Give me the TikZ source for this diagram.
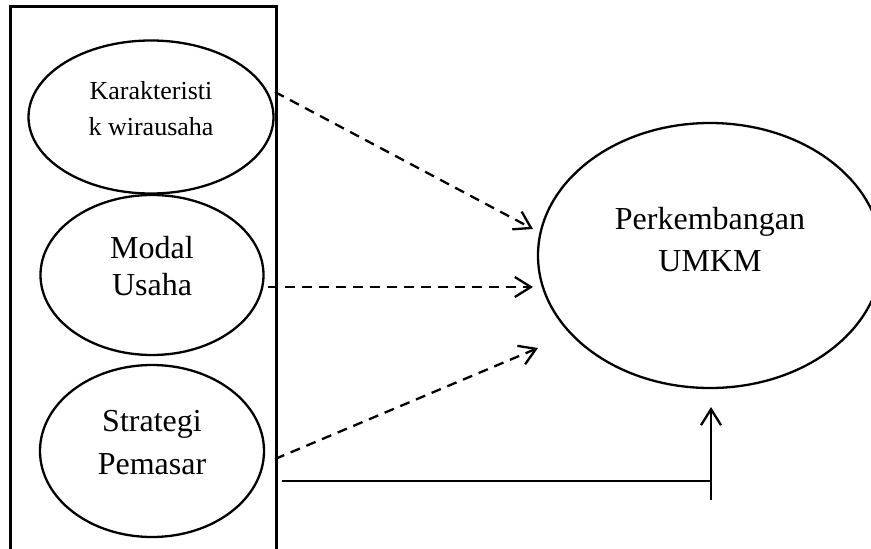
\documentclass[tikz,border=0pt]{standalone}
\usepackage{fontspec}
\setmainfont{Liberation Serif}
\usetikzlibrary{shapes, arrows.meta}
\usetikzlibrary{positioning}

\tikzset{
  var/.style={draw, ellipse, line width=2.3pt, inner sep=0pt},
  tulisan/.style={align=center, font=\fontsize{32}{37}\selectfont},
  garis/.style={line width=2.3pt},
  putus/.style={garis, dash pattern=on 10pt off 7pt, -{Straight Barb[length=16pt, width=20pt]}},
  panah/.style={garis, -{Straight Barb[length=16pt, width=20pt]}},
}

\begin{document}
\begin{tikzpicture}[x=1pt, y=-1pt]
    \path[use as bounding box, clip] (0,0) rectangle (871,549);

    % kotak variabel bebas
    \node[draw, line width=2.5pt, minimum width=266pt, minimum height=570pt, anchor=north west] (kotak) at (9,5) {};

    \node[var, minimum width=245pt, minimum height=153pt,
      label={[name=tkar, tulisan, font=\fontsize{26}{36}\selectfont, yshift=8pt]center:{Karakteristi\\k wirausaha}}] (kar) at (151,117) {};
    \node[var, minimum width=223pt, minimum height=160pt,
      label={[name=tmodal, tulisan, yshift=8.5pt]center:{Modal\\Usaha}}] (modal) at (152,275) {};
    \node[var, minimum width=224pt, minimum height=172pt,
      label={[name=tstrat, tulisan, font=\fontsize{32}{43}\selectfont, yshift=8pt]center:{Strategi\\Pemasar}}] (strat) at (152,451) {};

    % variabel terikat
    \node[var, minimum width=344pt, minimum height=265pt,
      label={[name=tumkm, tulisan, font=\fontsize{32}{42}\selectfont, yshift=15.5pt]center:{Perkembangan\\UMKM}}] (umkm) at (710,255.5) {};

    \coordinate (s1) at (275,92);
    \coordinate (e1) at (533,229);
    \coordinate (s2) at (268,287);
    \coordinate (e2) at (533,287);
    \coordinate (s3) at (275,459);
    \coordinate (e3) at (538,348);
    \coordinate (s4) at (282,481);
    \coordinate (j4) at (711,481);
    \coordinate (b4) at (711,500);
    \coordinate (e4) at (711,407);

    \draw[putus] (s1) -- (e1);
    \draw[putus] (s2) -- (e2);
    \draw[putus] (s3) -- (e3);

    \draw[garis] (s4) -- (j4);
    \draw[panah] (b4) -- (e4);
\end{tikzpicture}
\end{document}
